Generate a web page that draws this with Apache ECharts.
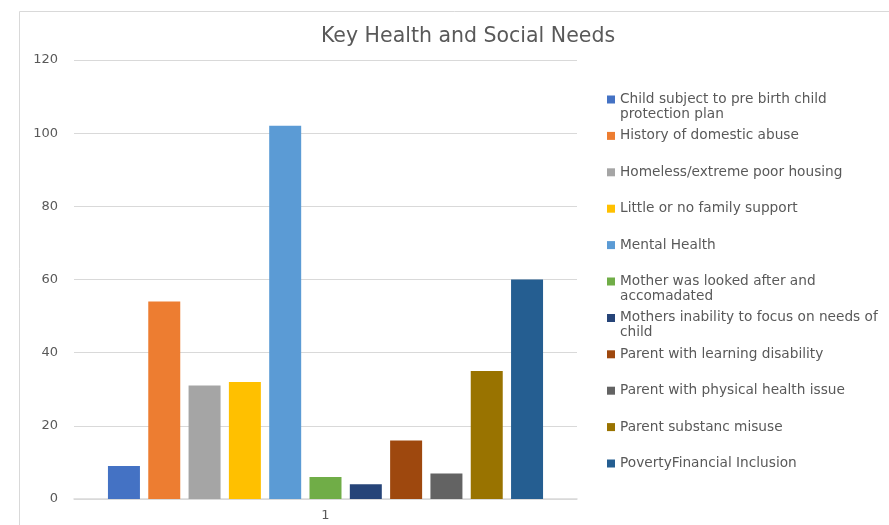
<!DOCTYPE html>
<html>
<head>
<meta charset="utf-8">
<script src="https://cdn.jsdelivr.net/npm/echarts@6/dist/echarts.min.js"></script>
<style>html,body{margin:0;padding:0;background:#fff;}#c{width:889px;height:525px;}</style>
</head>
<body>
<div id="c"></div>
<script>
const title = 'Key Health and Social Needs';
const categories = ['1'];
const seriesNames = [
  'Child subject to pre birth child protection plan',
  'History of domestic abuse',
  'Homeless/extreme poor housing',
  'Little or no family support',
  'Mental Health',
  'Mother was looked after and accomadated',
  'Mothers inability to focus on needs of child',
  'Parent with learning disability',
  'Parent with physical health issue',
  'Parent substanc misuse',
  'PovertyFinancial Inclusion'
];
const legendLabels = [
  'Child subject to pre birth child\nprotection plan',
  'History of domestic abuse',
  'Homeless/extreme poor housing',
  'Little or no family support',
  'Mental Health',
  'Mother was looked after and\naccomadated',
  'Mothers inability to focus on needs of\nchild',
  'Parent with learning disability',
  'Parent with physical health issue',
  'Parent substanc misuse',
  'PovertyFinancial Inclusion'
];
const values = [9, 54, 31, 32, 102, 6, 4, 16, 7, 35, 60];
const colors = ['#4472C4','#ED7D31','#A5A5A5','#FFC000','#5B9BD5','#70AD47','#264478','#9E480E','#636363','#997300','#255E91'];
const yTicks = [0, 20, 40, 60, 80, 100, 120];

const font = 'DejaVu Sans';
const chart = echarts.init(document.getElementById('c'));

const legends = seriesNames.map((n, i) => {
  const twoLine = legendLabels[i].indexOf('\n') >= 0;
  return {
    data: [n],
    left: 607,
    top: 92 + i * 36.4,
    orient: 'vertical',
    itemWidth: 8,
    itemHeight: twoLine ? 23 : 8,
    icon: twoLine ? 'path://M0,0h8v8h-8zM0,23h8' : 'rect',
    itemGap: 0,
    padding: 0,
    selectedMode: false,
    formatter: () => legendLabels[i],
    textStyle: {
      fontFamily: font, fontSize: 13.7, color: '#595959', lineHeight: 15
    }
  };
});

chart.setOption({
  animation: false,
  color: colors,
  title: {
    text: title, left: 463, top: 21, textAlign: 'center',
    textStyle: { fontFamily: font, fontSize: 20.5, fontWeight: 'normal', color: '#595959' }
  },
  legend: legends,
  graphic: [{
    type: 'rect', shape: { x: 19.5, y: 11.5, width: 1000, height: 1000 },
    style: { fill: 'none', stroke: '#d9d9d9', lineWidth: 1 }, silent: true, z: -10
  }],
  grid: { left: 74, right: 312, top: 60, bottom: 26 },
  xAxis: {
    type: 'category', data: categories,
    axisLine: { lineStyle: { color: '#d9d9d9', width: 1.5 } },
    axisTick: { show: false },
    axisLabel: { fontFamily: font, fontSize: 13, color: '#595959', margin: 10 }
  },
  yAxis: {
    type: 'value', min: yTicks[0], max: yTicks[yTicks.length - 1], interval: 20,
    axisLine: { show: false }, axisTick: { show: false },
    splitLine: { lineStyle: { color: '#d9d9d9', width: 1 } },
    axisLabel: { fontFamily: font, fontSize: 13, color: '#595959', margin: 16 }
  },
  series: seriesNames.map((n, i) => ({
    name: n, type: 'bar', data: [values[i]],
    barGap: '26%', barCategoryGap: '13.5%',
    itemStyle: { color: colors[i] }
  }))
});
</script>
</body>
</html>
